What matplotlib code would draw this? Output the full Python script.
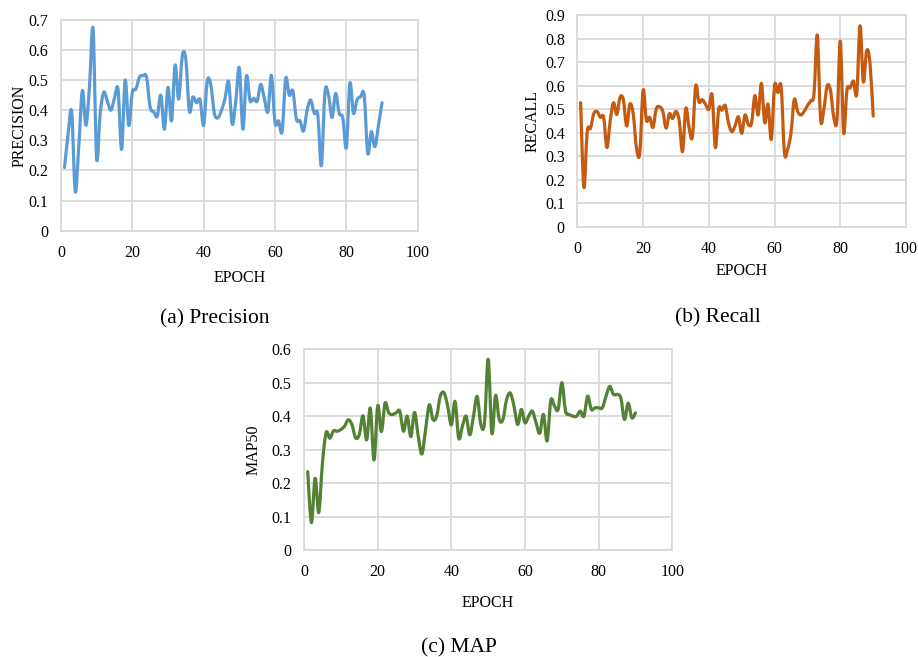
import numpy as np
import matplotlib.pyplot as plt
from matplotlib.path import Path
from matplotlib.patches import PathPatch

plt.rcParams['font.family'] = ['Liberation Serif', 'DejaVu Serif']

epochs = list(range(1, 91))

precision = [0.21, 0.32, 0.395, 0.13, 0.28, 0.465, 0.35, 0.48, 0.67, 0.24,
             0.39, 0.46, 0.43, 0.40, 0.44, 0.47, 0.27, 0.50, 0.35, 0.46,
             0.47, 0.51, 0.515, 0.51, 0.41, 0.395, 0.38, 0.45, 0.337, 0.476,
             0.365, 0.55, 0.437, 0.58, 0.57, 0.397, 0.444, 0.425, 0.435, 0.35,
             0.497, 0.485, 0.39, 0.375, 0.40, 0.44, 0.495, 0.354, 0.43, 0.541,
             0.337, 0.514, 0.432, 0.44, 0.43, 0.486, 0.44, 0.395, 0.516, 0.359,
             0.365, 0.33, 0.506, 0.45, 0.465, 0.37, 0.365, 0.331, 0.40, 0.434,
             0.39, 0.385, 0.216, 0.46, 0.45, 0.376, 0.456, 0.39, 0.375, 0.276,
             0.49, 0.39, 0.435, 0.445, 0.45, 0.257, 0.329, 0.279, 0.35, 0.425]

recall = [0.527, 0.167, 0.404, 0.418, 0.48, 0.49, 0.465, 0.465, 0.336, 0.45,
          0.527, 0.477, 0.55, 0.54, 0.428, 0.521, 0.48, 0.333, 0.314, 0.58,
          0.453, 0.465, 0.422, 0.50, 0.51, 0.49, 0.419, 0.48, 0.46, 0.49,
          0.45, 0.319, 0.503, 0.42, 0.382, 0.598, 0.53, 0.54, 0.52, 0.499,
          0.56, 0.336, 0.50, 0.495, 0.515, 0.44, 0.404, 0.43, 0.467, 0.397,
          0.475, 0.435, 0.44, 0.557, 0.475, 0.609, 0.442, 0.521, 0.371, 0.60,
          0.57, 0.595, 0.314, 0.33, 0.40, 0.541, 0.49, 0.475, 0.49, 0.515,
          0.535, 0.565, 0.814, 0.456, 0.50, 0.598, 0.58, 0.465, 0.455, 0.789,
          0.40, 0.58, 0.59, 0.619, 0.565, 0.854, 0.616, 0.748, 0.70, 0.47]

map50 = [0.234, 0.082, 0.214, 0.112, 0.26, 0.351, 0.334, 0.356, 0.355, 0.36,
         0.37, 0.389, 0.375, 0.335, 0.345, 0.401, 0.329, 0.424, 0.269, 0.431,
         0.354, 0.439, 0.41, 0.405, 0.41, 0.415, 0.355, 0.40, 0.339, 0.411,
         0.34, 0.287, 0.36, 0.434, 0.39, 0.40, 0.46, 0.47, 0.43, 0.374,
         0.444, 0.334, 0.37, 0.40, 0.344, 0.40, 0.459, 0.375, 0.38, 0.57,
         0.349, 0.462, 0.39, 0.39, 0.45, 0.469, 0.43, 0.375, 0.42, 0.38,
         0.40, 0.415, 0.38, 0.349, 0.405, 0.326, 0.447, 0.43, 0.42, 0.50,
         0.415, 0.405, 0.40, 0.40, 0.415, 0.40, 0.46, 0.42, 0.425, 0.425,
         0.425, 0.46, 0.489, 0.465, 0.465, 0.455, 0.39, 0.439, 0.395, 0.41]

grid_col = '#d9d9d9'


def smooth_path(xs, ys):
    # Excel-style smoothed line: cubic Bezier segments through each point
    pts = np.column_stack([xs, ys]).astype(float)
    n = len(pts)
    verts = [pts[0]]
    codes = [Path.MOVETO]
    for i in range(n - 1):
        p0 = pts[i - 1] if i > 0 else pts[i]
        p1 = pts[i]
        p2 = pts[i + 1]
        p3 = pts[i + 2] if i + 2 < n else pts[i + 1]
        c1 = p1 + (p2 - p0) / 6.0
        c2 = p2 - (p3 - p1) / 6.0
        verts += [c1, c2, p2]
        codes += [Path.CURVE4, Path.CURVE4, Path.CURVE4]
    return Path(verts, codes)


def panel(rect, ys, color, ylabel, ymax, caption, cap_xy, ypad, xpad):
    ax = fig.add_axes(rect)
    ax.add_patch(PathPatch(smooth_path(epochs, ys), facecolor='none',
                           edgecolor=color, lw=2.3, capstyle='round',
                           joinstyle='round'))
    ax.set_xlim(0, 100)
    ax.set_ylim(0, ymax)
    ax.set_xticks(range(0, 101, 20))
    ax.set_yticks(np.round(np.arange(0, ymax + 0.001, 0.1), 1))
    ax.set_yticklabels(['0'] + [f'{v:.1f}' for v in np.arange(0.1, ymax + 0.001, 0.1)])
    ax.grid(True, color=grid_col, lw=1.3)
    ax.set_axisbelow(True)
    for s in ax.spines.values():
        s.set_color(grid_col)
        s.set_linewidth(1.3)
    ax.tick_params(length=0, labelsize=11.5, pad=9, colors='black')
    ax.tick_params(axis='x', pad=10)
    ax.set_xlabel('EPOCH', fontsize=11.5, labelpad=xpad)
    ax.set_ylabel(ylabel, fontsize=11.5, labelpad=ypad)
    fig.text(cap_xy[0] / 918, 1 - cap_xy[1] / 657, caption, fontsize=15.5,
             ha='center', va='center')
    return ax


fig = plt.figure(figsize=(9.18, 6.57), dpi=100)

panel([0.0664, 0.6489, 0.3886, 0.3207], precision, '#5B9BD5', 'PRECISION', 0.7,
      '(a) Precision', (215, 319), 1, 7)
panel([0.6289, 0.6550, 0.3581, 0.3222], recall, '#C55A11', 'RECALL', 0.9,
      '(b) Recall', (718, 318), 3, 5)
panel([0.3312, 0.1629, 0.4012, 0.3055], map50, '#548235', 'MAP50', 0.6,
      '(c) MAP', (459, 648), 7, 11)

fig.savefig('out.png', dpi=100)
